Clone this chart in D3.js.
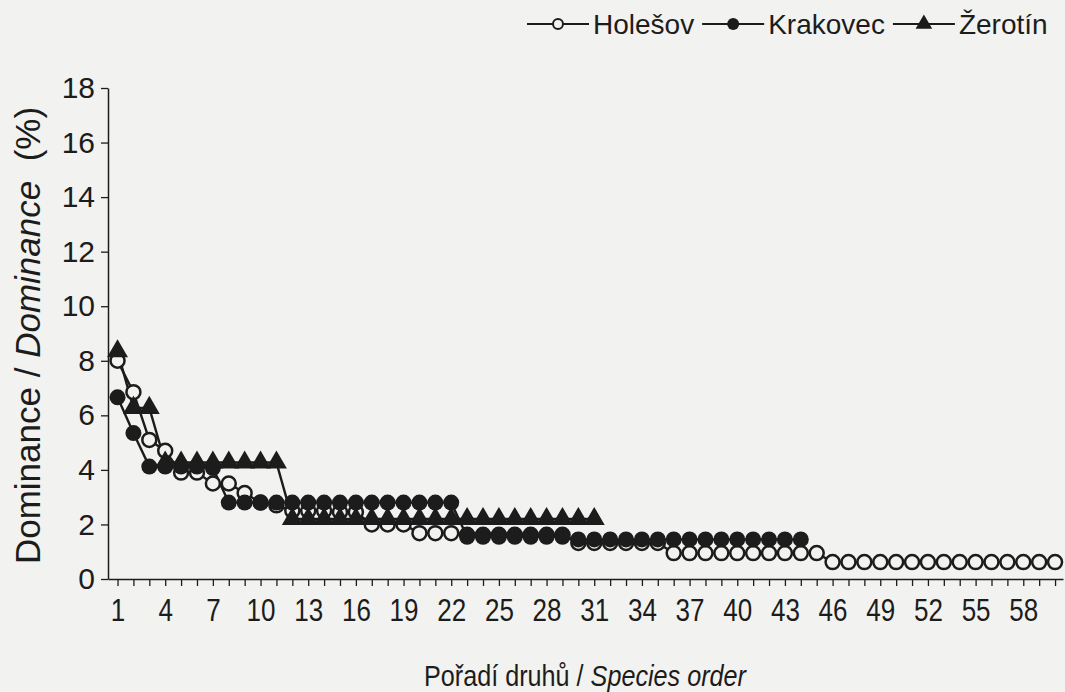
<!DOCTYPE html>
<html>
<head>
<meta charset="utf-8">
<script src="https://cdn.jsdelivr.net/npm/d3@7"></script>
<style>
  body { margin: 0; background: #f2f2f0; }
  svg { display: block; font-family: 'Liberation Sans', Arial, sans-serif; }
</style>
</head>
<body>
<div id="chart"></div>
<script>
// Dominance (%) by species rank
const holesov = [8.0, 6.85, 5.1, 4.7, 3.9, 3.9, 3.5, 3.5, 3.15, 2.8, 2.7, 2.5,
  2.5, 2.5, 2.45, 2.45, 2.0, 2.0, 2.0, 1.68, 1.68, 1.68,
  1.62, 1.62, 1.62, 1.62, 1.62, 1.62, 1.62,
  1.32, 1.32, 1.32, 1.32, 1.32, 1.32,
  0.95, 0.95, 0.95, 0.95, 0.95, 0.95, 0.95, 0.95, 0.95, 0.95,
  0.62, 0.62, 0.62, 0.62, 0.62, 0.62, 0.62, 0.62, 0.62, 0.62, 0.62, 0.62, 0.62, 0.62, 0.62];
const krakovec = [6.66, 5.35, 4.12, 4.12, 4.12, 4.12, 4.07,
  2.8, 2.8, 2.8, 2.8, 2.8, 2.8, 2.8, 2.8, 2.8, 2.8, 2.8, 2.8, 2.8, 2.8, 2.8,
  1.55, 1.55, 1.55, 1.55, 1.55, 1.55, 1.55,
  1.45, 1.45, 1.45, 1.45, 1.45, 1.45, 1.45, 1.45, 1.45, 1.45, 1.45, 1.45, 1.45, 1.45, 1.45];
const zerotin = [8.35, 6.27, 6.27,
  4.27, 4.27, 4.27, 4.27, 4.27, 4.27, 4.27, 4.27,
  2.2, 2.2, 2.2, 2.2, 2.2, 2.2, 2.2, 2.2, 2.2, 2.2,
  2.2, 2.2, 2.2, 2.2, 2.2, 2.2, 2.2, 2.2, 2.2, 2.2];

const seriesNames = ['Holešov', 'Krakovec', 'Žerotín'];
const xTickLabels = [1, 4, 7, 10, 13, 16, 19, 22, 25, 28, 31, 34, 37, 40, 43, 46, 49, 52, 55, 58];
const yTickLabels = [0, 2, 4, 6, 8, 10, 12, 14, 16, 18];
const speciesCount = 60;

const width = 1065;
const height = 692;
const ink = '#1c1c1c';
const paper = '#f2f2f0';
const narrow = 'scale(0.84,1)'; // the printed figure uses a condensed face

const svg = d3.select('#chart')
  .append('svg')
  .attr('width', width)
  .attr('height', height);

const x = d3.scaleLinear().domain([0.4, speciesCount + 0.5]).range([108, 1063]);
const y = d3.scaleLinear().domain([0, 18]).range([579, 88]);

// axes
const xAxis = svg.append('g')
  .attr('transform', `translate(0,${y(0)})`)
  .call(d3.axisBottom(x)
    .tickValues(d3.range(1, speciesCount + 1))
    .tickFormat(d => xTickLabels.includes(d) ? d : '')
    .tickSize(7)
    .tickSizeOuter(0)
    .tickPadding(13));

const yAxis = svg.append('g')
  .attr('transform', `translate(${x.range()[0]},0)`)
  .call(d3.axisLeft(y)
    .tickValues(yTickLabels)
    .tickSize(7)
    .tickSizeOuter(0)
    .tickPadding(6));

[xAxis, yAxis].forEach(g => {
  g.select('.domain').attr('stroke', ink).attr('stroke-width', 1.5);
  g.selectAll('.tick line').attr('stroke', ink).attr('stroke-width', 1.3);
  g.selectAll('.tick text').attr('fill', ink);
});
xAxis.selectAll('.tick text')
  .attr('transform', narrow)
  .style('font-size', '31px');
yAxis.selectAll('.tick text').style('font-size', '30px');

// series lines
const line = d3.line()
  .x((d, i) => x(i + 1))
  .y(d => y(d));

[holesov, krakovec, zerotin].forEach(values => {
  svg.append('path')
    .datum(values)
    .attr('fill', 'none')
    .attr('stroke', ink)
    .attr('stroke-width', 2.4)
    .attr('d', line);
});

// markers
svg.append('g').selectAll('circle')
  .data(holesov)
  .enter()
  .append('circle')
  .attr('cx', (d, i) => x(i + 1))
  .attr('cy', d => y(d))
  .attr('r', 7)
  .attr('fill', paper)
  .attr('stroke', ink)
  .attr('stroke-width', 2.5);

svg.append('g').selectAll('circle')
  .data(krakovec)
  .enter()
  .append('circle')
  .attr('cx', (d, i) => x(i + 1))
  .attr('cy', d => y(d))
  .attr('r', 8)
  .attr('fill', ink);

const tri = d3.symbol().type(d3.symbolTriangle).size(190);
svg.append('g').selectAll('path')
  .data(zerotin)
  .enter()
  .append('path')
  .attr('d', tri)
  .attr('transform', (d, i) => `translate(${x(i + 1)},${y(d)})`)
  .attr('fill', ink);

// axis titles
const yTitle = svg.append('text')
  .attr('transform', `translate(40,${(y(0) + y(18)) / 2 + 2}) rotate(-90)`)
  .attr('text-anchor', 'middle')
  .attr('fill', ink)
  .style('font-size', '35px');
yTitle.append('tspan').text('Dominance / ');
yTitle.append('tspan').style('font-style', 'italic').text('Dominance');
yTitle.append('tspan').text('\u00a0 (%)');

const xTitle = svg.append('text')
  .attr('transform', `translate(585,686) ${narrow}`)
  .attr('text-anchor', 'middle')
  .attr('fill', ink)
  .style('font-size', '30px');
xTitle.append('tspan').text('Pořadí druhů / ');
xTitle.append('tspan').style('font-style', 'italic').text('Species order');

// legend
const legend = svg.append('g').attr('transform', 'translate(527,24)');
let lx = 0;
seriesNames.forEach((name, i) => {
  const item = legend.append('g').attr('transform', `translate(${lx},0)`);
  item.append('line')
    .attr('x1', 0).attr('x2', 62)
    .attr('stroke', ink).attr('stroke-width', 2.2);
  if (i === 0) {
    item.append('circle').attr('cx', 31).attr('r', 5)
      .attr('fill', paper).attr('stroke', ink).attr('stroke-width', 2);
  } else if (i === 1) {
    item.append('circle').attr('cx', 31).attr('r', 6).attr('fill', ink);
  } else {
    item.append('path').attr('d', d3.symbol().type(d3.symbolTriangle).size(120))
      .attr('transform', 'translate(31,0)').attr('fill', ink);
  }
  const t = item.append('text')
    .attr('x', 66)
    .attr('dy', '0.35em')
    .attr('fill', ink)
    .style('font-size', '28px')
    .text(name);
  lx += 66 + t.node().getComputedTextLength() + 8;
});
</script>
</body>
</html>
